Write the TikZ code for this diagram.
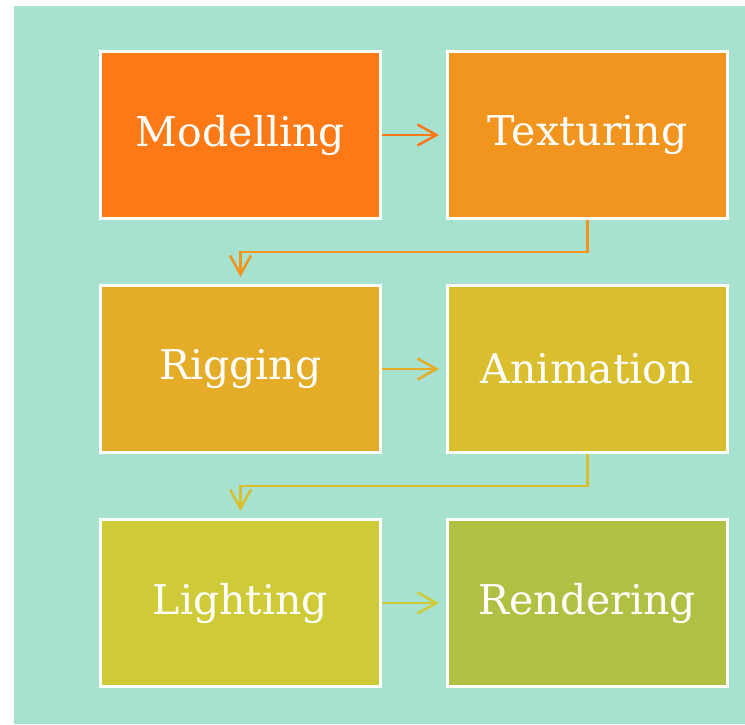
\documentclass[tikz,border=0pt]{standalone}
\usepackage{fontspec}
\setmainfont{DejaVu Serif}
\usetikzlibrary{arrows.meta, positioning}
\definecolor{bgcol}{HTML}{A7E2D1}
\definecolor{modcol}{HTML}{FC7916}
\definecolor{texcol}{HTML}{F1951E}
\definecolor{rigcol}{HTML}{E5AC27}
\definecolor{anicol}{HTML}{D9BE2E}
\definecolor{ligcol}{HTML}{CECB36}
\definecolor{rencol}{HTML}{B1C043}

\begin{document}
\begin{tikzpicture}[
    x=1pt, y=1pt,
    node distance=64pt and 64pt,
    >={Straight Barb[length=19pt, width=21pt]},
    box/.style={
        draw=white, line width=3pt, minimum width=280pt, minimum height=167pt,
        align=center, text=white, font=\fontsize{41}{49}\selectfont
    },
    flow/.style={
        ->, line width=2.5pt, shorten >=7pt
    },
]

% ── Frame ──
\useasboundingbox (0,0) rectangle (745,724);
\fill[bgcol] (14,0) rectangle (745,718);

% ── Nodes ──
\node[box, fill=modcol] (mod) at (240.5,589) {Modelling};
\node[box, fill=texcol, right=of mod] (tex) {Texturing};
\node[box, fill=rigcol, below=of mod] (rig) {Rigging};
\node[box, fill=anicol, right=of rig] (ani) {Animation};
\node[box, fill=ligcol, below=of rig] (lig) {Lighting};
\node[box, fill=rencol, right=of lig] (ren) {Rendering};

% ── Flow arrows ──
\draw[flow, modcol] (mod) -- (tex);
\draw[flow, texcol] (tex.south) -- ++(0,-32) -| (rig.north);
\draw[flow, rigcol] (rig) -- (ani);
\draw[flow, anicol] (ani.south) -- ++(0,-32) -| (lig.north);
\draw[flow, ligcol] (lig) -- (ren);

\end{tikzpicture}
\end{document}
